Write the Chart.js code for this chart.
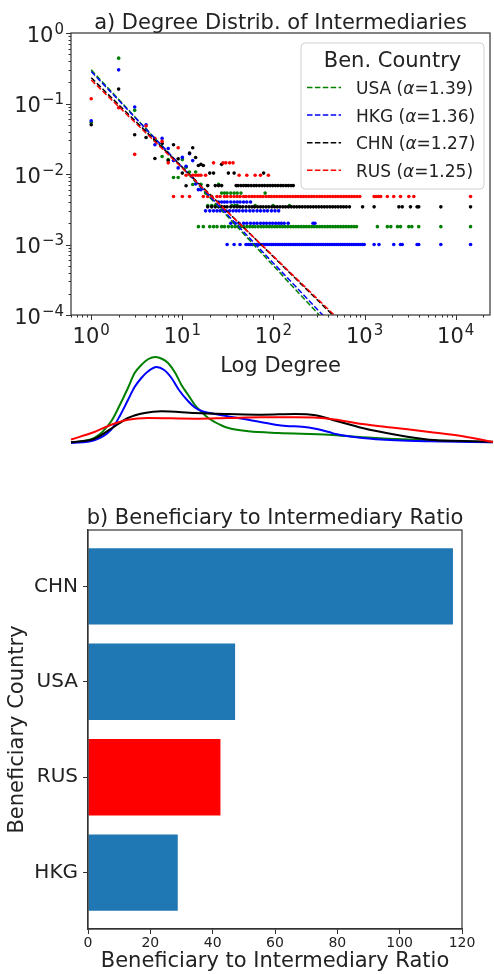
<!DOCTYPE html>
<html>
<head>
<meta charset="utf-8">
<script src="https://cdn.jsdelivr.net/npm/chart.js@4"></script>
<style>
  body { margin: 0; background: #fff; }
  #wrap { position: relative; width: 494px; height: 974px; }
  canvas { position: absolute; left: 0; }
  #degreeChart { top: 0; }
  #kdeChart { top: 340px; }
  #ratioChart { top: 480px; }
</style>
</head>
<body>
<div id="wrap">
  <canvas id="degreeChart" width="494" height="380"></canvas>
  <canvas id="kdeChart" width="494" height="110"></canvas>
  <canvas id="ratioChart" width="494" height="494"></canvas>
</div>
<script>
// ---- data ----
const countries = ['USA', 'HKG', 'CHN', 'RUS'];
const alphas = ['1.39', '1.36', '1.27', '1.25'];
const colors = ['green', 'blue', 'black', 'red'];

// low degree points (degree, share of intermediaries)
const usaHeadK = [1, 2, 3, 4, 5, 6, 7, 8, 9, 10, 11, 12, 13, 14];
const usaHeadP = [0.054, 0.44, 0.080, 0.042, 0.030, 0.0177, 0.016, 0.0089, 0.0089, 0.016, 0.0125, 0.0107, 0.0071, 0.0107];
const hkgHeadK = [1, 2, 3, 4, 5, 6, 7, 8, 9, 10, 11, 12, 13, 14, 15, 16];
const hkgHeadP = [0.057, 0.30, 0.089, 0.050, 0.026, 0.032, 0.023, 0.0155, 0.0122, 0.0172, 0.0129, 0.0194, 0.0155, 0.0072, 0.006, 0.006];
const chnHeadK = [1, 2, 3, 4, 5, 6, 7, 8, 9, 10, 11, 12, 13, 14, 15, 16, 17];
const chnHeadP = [0.050, 0.16, 0.036, 0.033, 0.0166, 0.027, 0.0155, 0.026, 0.0164, 0.0103, 0.0068, 0.0199, 0.0236, 0.0171, 0.0132, 0.0137, 0.0132];
const rusHeadK = [1, 2, 3, 4, 5, 6, 7, 9];
const rusHeadP = [0.117, 0.087, 0.019, 0.048, 0.032, 0.029, 0.0144, 0.0236];

// tail: rows of degrees sharing the same small count
const usaRowP = [0.00179, 0.00357, 0.00536, 0.00714];
const usaRowK = [
  [15, 17, 20, 22, 24, 27, 29, 32, 35, 38, 41, 44, 47, 51, 55, 59, 63, 68, 73, 78, 84, 90, 96, 103, 110, 118, 126, 135, 144, 154, 165, 176, 188, 201, 215, 230, 246, 263, 281, 300, 321, 343, 367, 392, 419, 448, 479, 512, 547, 585, 625, 668, 714, 763, 815, 1382, 1778, 1940, 2300, 2480, 3060, 3300, 3930, 6870, 14560],
  [19, 21, 23, 35, 38, 40, 63, 99, 150],
  [18, 27, 29, 31, 34, 37, 40, 44, 81],
  [16, 25]
];
const hkgRowP = [0.001, 0.002, 0.003, 0.004];
const hkgRowK = [
  [31, 37, 43, 50, 53, 56, 59, 62, 65, 69, 73, 77, 81, 85, 90, 95, 100, 106, 112, 118, 125, 132, 139, 147, 155, 164, 173, 183, 193, 204, 215, 227, 240, 253, 267, 282, 298, 315, 333, 352, 372, 393, 415, 438, 463, 489, 517, 546, 577, 610, 645, 682, 721, 762, 805, 851, 899, 950, 991, 1273, 1440, 2090, 2480, 2590, 3770, 3930, 6870, 14560],
  [34, 38, 42, 47, 51, 56, 61, 66, 72, 78, 84, 91, 98, 106, 114, 122, 131, 145, 272, 285],
  [18, 20, 22, 24, 26, 28, 30, 33, 36, 39, 42, 46, 50, 55, 60, 66, 72, 79, 86, 95, 104, 114],
  [25, 27, 29, 31, 34, 37, 40, 43, 47, 51, 56]
];
const chnRowP = [0.00342, 0.00685, 0.0103, 0.0137];
const chnRowK = [
  [19, 21, 23, 25, 27, 29, 31, 34, 37, 40, 43, 46, 50, 54, 58, 62, 67, 72, 77, 83, 89, 96, 103, 110, 118, 127, 136, 146, 157, 168, 180, 193, 207, 222, 238, 255, 274, 294, 315, 338, 362, 388, 416, 446, 478, 512, 549, 588, 630, 682, 951, 1273, 2380, 2590, 3190, 3770, 3930, 6870, 14560],
  [19, 23, 25, 27, 39, 41, 44, 47, 50, 53, 57, 61, 65, 70, 75, 80, 86, 92, 98, 105, 112, 120, 128, 137, 146, 156, 165],
  [20, 22, 32, 37, 78],
  [27]
];
const rusRowP = [0.0048, 0.0096, 0.0144];
const rusRowK = [
  [8, 10, 12, 17, 19, 21, 24, 26, 29, 31, 34, 37, 40, 43, 47, 50, 54, 58, 62, 67, 72, 77, 83, 89, 95, 102, 109, 117, 125, 134, 143, 153, 164, 175, 187, 200, 214, 229, 245, 262, 280, 300, 321, 343, 367, 393, 420, 450, 481, 515, 551, 590, 631, 675, 722, 773, 827, 885, 1273, 1340, 1420, 1503, 1778, 2090, 2480, 3060, 3470, 14560],
  [11, 13, 14, 15, 16, 18, 42, 51, 63, 72, 88],
  [22, 28, 30, 33, 36]
];

// power-law fits, end points of each dashed line
const fitK = [1, 1000];
const usaFit = [0.30, 2.03e-5];
const hkgFit = [0.285, 2.37e-5];
const chnFit = [0.232, 3.59e-5];
const rusFit = [0.215, 3.82e-5];

// density of log degree (height units), sampled along log10(degree)
const usaKdeX = [-0.228, 0.025, 0.207, 0.30, 0.388, 0.46, 0.533, 0.61, 0.685, 0.76, 0.822, 0.90, 0.967, 1.04, 1.112, 1.185, 1.257, 1.402, 1.475, 1.692, 2.018, 2.562, 2.924, 3.286, 3.649, 4.011, 4.337];
const usaKdeY = [0.5, 5, 21.7, 38, 55, 70, 78, 84, 86, 84, 80, 70, 58, 48, 38, 31, 25, 17.5, 15, 11.7, 10, 8.3, 5.7, 4, 2.7, 1.7, 0.8];
const hkgKdeX = [-0.228, 0.025, 0.207, 0.30, 0.388, 0.46, 0.533, 0.61, 0.696, 0.78, 0.859, 0.94, 1.04, 1.112, 1.185, 1.30, 1.402, 1.55, 1.692, 1.85, 1.982, 2.1, 2.272, 2.417, 2.562, 2.634, 2.924, 3.286, 3.649, 4.337];
const hkgKdeY = [0, 2.7, 13.3, 27, 43, 56, 65, 72, 76, 73, 65, 53, 41.7, 35.5, 32, 29.5, 27.7, 25.5, 23.3, 20.5, 18.3, 17, 16.3, 14.3, 11, 9, 5, 2.7, 1.7, 0.8];
const chnKdeX = [-0.228, 0.025, 0.207, 0.388, 0.569, 0.75, 1.112, 1.475, 1.837, 2.199, 2.417, 2.634, 2.924, 3.286, 3.649, 4.011, 4.337];
const chnKdeY = [0.7, 4.3, 14.3, 25, 30, 31.7, 30, 29, 28.3, 29, 27.7, 22.3, 15, 8.3, 3.3, 2, 1.2];
const rusKdeX = [-0.228, 0.025, 0.207, 0.388, 0.605, 1.112, 1.475, 1.837, 2.199, 2.562, 2.924, 3.286, 3.649, 4.011, 4.337];
const rusKdeY = [3.5, 11, 18.3, 23.3, 25, 24.3, 25, 25.7, 25.7, 24.3, 19, 15, 11, 6.7, 1];

// beneficiary to intermediary ratio, bottom to top
const barCountries = ['HKG', 'RUS', 'USA', 'CHN'];
const barRatios = [28.8, 42.5, 47.2, 117.1];
const barColors = ['#1f77b4', 'red', '#1f77b4', '#1f77b4'];

// ---- helpers ----
const FAM = "'DejaVu Sans', sans-serif";
Chart.defaults.font.family = FAM;
Chart.defaults.color = '#222';

function toPoints(xs, ys) {
  return xs.map((x, i) => ({ x: x, y: ys[i] }));
}
function rowPoints(rowsK, rowsP) {
  const pts = [];
  rowsK.forEach((row, r) => row.forEach(k => pts.push({ x: k, y: rowsP[r] })));
  return pts;
}

const heads = [[usaHeadK, usaHeadP], [hkgHeadK, hkgHeadP], [chnHeadK, chnHeadP], [rusHeadK, rusHeadP]];
const rows = [[usaRowK, usaRowP], [hkgRowK, hkgRowP], [chnRowK, chnRowP], [rusRowK, rusRowP]];
const fits = [usaFit, hkgFit, chnFit, rusFit];
const kdes = [[usaKdeX, usaKdeY], [hkgKdeX, hkgKdeY], [chnKdeX, chnKdeY], [rusKdeX, rusKdeY]];

function drawPow(ctx, exp, x, y, align) {
  const sup = exp < 0 ? '\u2212' + (-exp) : String(exp);
  ctx.font = '21px ' + FAM;
  const wb = ctx.measureText('10').width;
  ctx.font = '15px ' + FAM;
  const ws = ctx.measureText(sup).width;
  const x0 = align === 'right' ? x - wb - ws - 1 : x - (wb + ws + 1) / 2;
  ctx.font = '21px ' + FAM;
  ctx.fillText('10', x0, y);
  ctx.font = '15px ' + FAM;
  ctx.fillText(sup, x0 + wb + 1, y - 8);
}

// frame, log ticks, labels, title and legend for panel a
const degreeDecor = {
  id: 'degreeDecor',
  afterDraw(chart) {
    const { ctx, chartArea: a, scales: { x, y } } = chart;
    ctx.save();
    ctx.strokeStyle = '#333';
    ctx.lineWidth = 1.2;
    ctx.strokeRect(a.left, a.top, a.right - a.left, a.bottom - a.top);
    ctx.lineWidth = 1;
    ctx.beginPath();
    for (let e = -4; e <= 0; e++) {
      for (let m = 1; m <= 9; m++) {
        const v = m * Math.pow(10, e);
        if (v > 1.0001) break;
        const py = Math.round(y.getPixelForValue(v)) + 0.5;
        const len = m === 1 ? 5 : 2.5;
        ctx.moveTo(a.left - len, py); ctx.lineTo(a.left, py);
      }
    }
    for (let e = -1; e <= 4; e++) {
      for (let m = 1; m <= 9; m++) {
        const v = m * Math.pow(10, e);
        if (v < x.min || v > x.max) continue;
        const px = Math.round(x.getPixelForValue(v)) + 0.5;
        const len = m === 1 ? 5 : 2.5;
        ctx.moveTo(px, a.bottom); ctx.lineTo(px, a.bottom + len);
      }
    }
    ctx.stroke();

    ctx.fillStyle = '#222';
    ctx.textAlign = 'left';
    ctx.textBaseline = 'alphabetic';
    for (let e = -4; e <= 0; e++) {
      drawPow(ctx, e, a.left - 7, y.getPixelForValue(Math.pow(10, e)) + 8.5, 'right');
    }
    for (let e = 0; e <= 4; e++) {
      drawPow(ctx, e, x.getPixelForValue(Math.pow(10, e)), a.bottom + 28, 'center');
    }

    const cx = (a.left + a.right) / 2;
    ctx.textAlign = 'center';
    ctx.font = '21px ' + FAM;
    ctx.fillText('a) Degree Distrib. of Intermediaries', cx, 28.5);
    ctx.fillText('Log Degree', cx, 372);

    // legend
    const lx = 301, ly = 43, lw = 183, lh = 146;
    ctx.beginPath();
    ctx.roundRect(lx, ly, lw, lh, 4);
    ctx.fillStyle = 'rgba(255,255,255,0.85)';
    ctx.fill();
    ctx.strokeStyle = '#d0d0d0';
    ctx.lineWidth = 1;
    ctx.stroke();
    ctx.fillStyle = '#222';
    ctx.font = '21px ' + FAM;
    ctx.fillText('Ben. Country', lx + lw / 2, 66.5);
    ctx.textAlign = 'left';
    countries.forEach((c, i) => {
      const by = 94 + i * 27.6;
      ctx.save();
      ctx.strokeStyle = colors[i];
      ctx.lineWidth = 1.5;
      ctx.setLineDash([5.5, 2.4]);
      ctx.beginPath();
      ctx.moveTo(307, by - 6.5); ctx.lineTo(341, by - 6.5);
      ctx.stroke();
      ctx.restore();
      let tx = 356;
      ctx.font = '17px ' + FAM;
      const p1 = c + ' (';
      ctx.fillText(p1, tx, by); tx += ctx.measureText(p1).width;
      ctx.font = 'italic 17px ' + FAM;
      ctx.fillText('\u03b1', tx, by); tx += ctx.measureText('\u03b1').width;
      ctx.font = '17px ' + FAM;
      ctx.fillText('=' + alphas[i] + ')', tx, by);
    });
    ctx.restore();
  }
};

const degreeSets = [];
countries.forEach((c, i) => {
  degreeSets.push({
    type: 'line',
    label: c,
    data: toPoints(fitK, fits[i]),
    borderColor: colors[i],
    borderWidth: 1.5,
    borderDash: [5.5, 2.4],
    pointRadius: 0,
    fill: false,
    order: 3 - i
  });
});
countries.forEach((c, i) => {
  degreeSets.push({
    type: 'scatter',
    label: c + ' points',
    data: toPoints(heads[i][0], heads[i][1]).concat(rowPoints(rows[i][0], rows[i][1])),
    backgroundColor: colors[i],
    borderWidth: 0,
    pointRadius: 1.8,
    order: 4 + (3 - i)
  });
});

new Chart(document.getElementById('degreeChart'), {
  type: 'scatter',
  data: { datasets: degreeSets },
  options: {
    responsive: false,
    animation: false,
    events: [],
    layout: { padding: { left: 71, right: 1, top: 33, bottom: 65 } },
    plugins: { legend: { display: false }, tooltip: { enabled: false } },
    scales: {
      x: { type: 'logarithmic', min: 0.609, max: 23800, display: false },
      y: { type: 'logarithmic', min: 1e-4, max: 1, display: false }
    }
  },
  plugins: [degreeDecor]
});

// density curves under panel a
new Chart(document.getElementById('kdeChart'), {
  type: 'line',
  data: {
    datasets: countries.map((c, i) => ({
      label: c,
      data: toPoints(kdes[i][0], kdes[i][1]),
      borderColor: colors[i],
      borderWidth: 2,
      pointRadius: 0,
      cubicInterpolationMode: 'monotone',
      fill: false,
      clip: 3,
      order: 3 - i
    }))
  },
  options: {
    responsive: false,
    animation: false,
    events: [],
    layout: { padding: { left: 71, right: 1, top: 0, bottom: 7 } },
    plugins: { legend: { display: false }, tooltip: { enabled: false } },
    scales: {
      x: { type: 'linear', min: -0.228, max: 4.337, display: false },
      y: { type: 'linear', min: 0, max: 103, display: false }
    }
  }
});

// panel b
const ratioDecor = {
  id: 'ratioDecor',
  afterDraw(chart) {
    const { ctx, chartArea: a } = chart;
    ctx.save();
    ctx.strokeStyle = '#333';
    ctx.lineWidth = 1.2;
    ctx.strokeRect(a.left, a.top, a.right - a.left, a.bottom - a.top);
    ctx.fillStyle = '#222';
    ctx.font = '21px ' + FAM;
    ctx.textAlign = 'center';
    ctx.textBaseline = 'alphabetic';
    ctx.fillText('b) Beneficiary to Intermediary Ratio', (a.left + a.right) / 2, 44);
    ctx.restore();
  }
};

new Chart(document.getElementById('ratioChart'), {
  type: 'bar',
  data: {
    datasets: [{
      label: 'ratio',
      data: barRatios.map((v, i) => ({ x: v, y: i })),
      backgroundColor: barColors,
      borderWidth: 0,
      categoryPercentage: 1,
      barPercentage: 0.8
    }]
  },
  options: {
    indexAxis: 'y',
    responsive: false,
    animation: false,
    events: [],
    layout: { padding: { left: 0, right: 32, top: 50, bottom: 0 } },
    plugins: { legend: { display: false }, tooltip: { enabled: false } },
    scales: {
      x: {
        type: 'linear', min: 0, max: 120,
        ticks: { stepSize: 20, font: { size: 14 }, padding: 1, color: '#222' },
        grid: { drawOnChartArea: false, tickLength: 5, color: '#333' },
        border: { color: '#333', width: 1.2 },
        title: { display: true, text: 'Beneficiary to Intermediary Ratio', font: { size: 21 }, padding: { top: 0, bottom: 0 }, color: '#222' },
        afterFit(scale) { scale.height = 45; }
      },
      y: {
        type: 'linear', min: -0.59, max: 3.59,
        offset: false,
        afterBuildTicks(scale) { scale.ticks = barCountries.map((c, i) => ({ value: i })); },
        ticks: { font: { size: 20 }, padding: 5, color: '#222', callback: v => barCountries[v] },
        grid: { drawOnChartArea: false, tickLength: 5, color: '#333', offset: false },
        border: { color: '#333', width: 1.2 },
        title: { display: true, text: 'Beneficiary Country', font: { size: 21 }, padding: { top: 5, bottom: 0 }, color: '#222' },
        afterFit(scale) { scale.width = 88; }
      }
    }
  },
  plugins: [ratioDecor]
});
</script>
</body>
</html>
